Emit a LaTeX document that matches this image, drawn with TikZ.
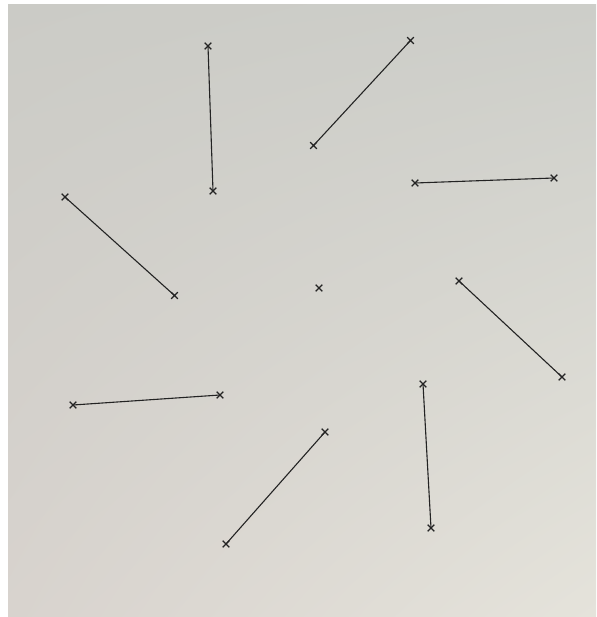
\documentclass[tikz,border=0pt]{standalone}
\usetikzlibrary{shapes.misc,shadings}
\definecolor{ink}{RGB}{35,35,35}
\definecolor{paperUL}{RGB}{203,203,198}
\definecolor{paperUR}{RGB}{205,206,201}
\definecolor{paperLL}{RGB}{216,211,206}
\definecolor{paperLR}{RGB}{229,227,219}
\tikzset{
  xmark/.style={cross out, draw=ink, line width=1.2pt, minimum size=5.5pt, inner sep=0pt},
  seg/.style={draw=ink, line width=1.1pt}
}
\begin{document}
\begin{tikzpicture}[x=1pt,y=-1pt]
\useasboundingbox (0,0) rectangle (596,617);
\fill[white] (0,0) rectangle (596,617);
\shade[upper left=paperUL, upper right=paperUR, lower left=paperLL, lower right=paperLR] (8,5) rectangle (596,617);
% marks
\node[xmark] (a1) at (208,46) {};
\node[xmark] (a2) at (213,191) {};
\node[xmark] (b1) at (410.5,40.5) {};
\node[xmark] (b2) at (313.5,145.5) {};
\node[xmark] (c1) at (415,183) {};
\node[xmark] (c2) at (554,178) {};
\node[xmark] (d1) at (65,197) {};
\node[xmark] (d2) at (174.5,295.5) {};
\node[xmark] (e1) at (459,281) {};
\node[xmark] (e2) at (562,377) {};
\node[xmark] (f1) at (73,405) {};
\node[xmark] (f2) at (220,395) {};
\node[xmark] (g1) at (325,432) {};
\node[xmark] (g2) at (226,544) {};
\node[xmark] (h1) at (423,384) {};
\node[xmark] (h2) at (431,528) {};
\node[xmark] (o) at (319,288) {};
% segments
\draw[seg] (a1.center) -- (a2.center);
\draw[seg] (b1.center) -- (b2.center);
\draw[seg] (c1.center) -- (c2.center);
\draw[seg] (d1.center) -- (d2.center);
\draw[seg] (e1.center) -- (e2.center);
\draw[seg] (f1.center) -- (f2.center);
\draw[seg] (g1.center) -- (g2.center);
\draw[seg] (h1.center) -- (h2.center);
\end{tikzpicture}
\end{document}
